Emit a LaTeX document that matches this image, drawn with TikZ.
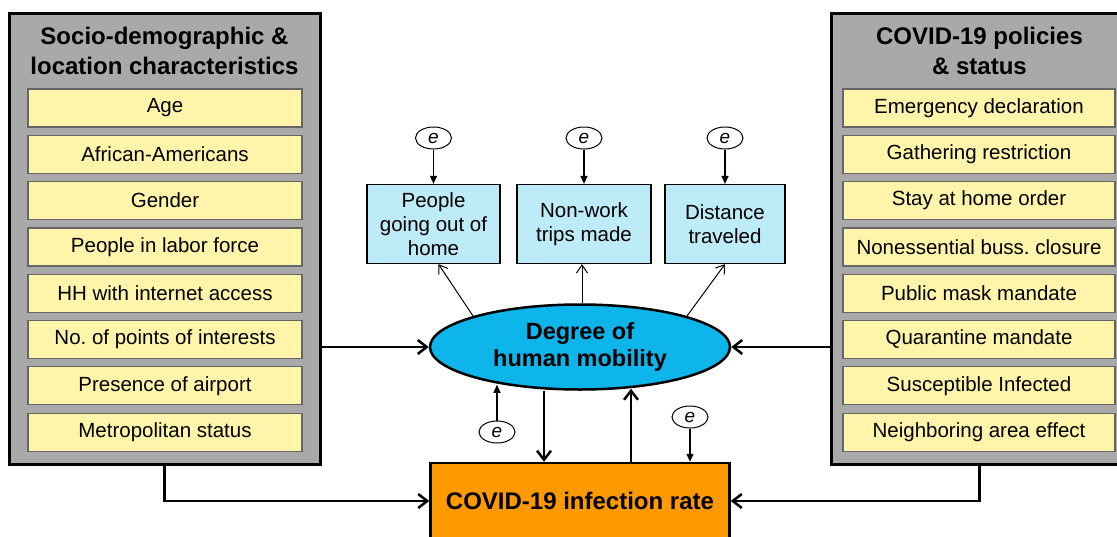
\documentclass[tikz,border=0pt]{standalone}
\usepackage{fontspec}
\setmainfont{Liberation Sans}
\usepackage{xcolor}
\definecolor{grisgroupe}{HTML}{A9A9A9}
\definecolor{jaune}{HTML}{FFF5AA}
\definecolor{bleuclair}{HTML}{BDEBF7}
\definecolor{bleumob}{HTML}{0DB5EA}
\definecolor{orangetx}{HTML}{FF9900}
\usepackage{tikz}
\usetikzlibrary{positioning,arrows.meta,calc,shapes.geometric}

\begin{document}
\frenchspacing
\begin{tikzpicture}[x=1pt,y=-1pt,
  groupe/.style={draw=black,line width=3pt,fill=grisgroupe,inner sep=0pt},
  titre/.style={align=center,inner sep=0pt,font=\fontsize{24}{30}\selectfont\bfseries},
  facteur/.style={draw=black!60,line width=1.2pt,fill=jaune,minimum height=38pt,inner sep=0pt,font=\fontsize{20.5}{22}\selectfont},
  indic/.style={draw=black,line width=1.2pt,fill=bleuclair,minimum height=79pt,align=center,inner sep=0pt,font=\fontsize{20.5}{24}\selectfont},
  err/.style={draw=black,line width=1pt,ellipse,minimum width=36pt,minimum height=22pt,inner sep=0pt,font=\fontsize{19}{19}\selectfont\itshape},
  fin/.style={-{Triangle[length=8pt,width=7pt]},line width=1.2pt},
  mince/.style={-{Straight Barb[length=8pt,width=11pt]},line width=1pt},
  epais/.style={-{Straight Barb[length=9pt,width=14pt]},line width=2.5pt}
]
\useasboundingbox (0,0) rectangle (1117,536);

% les deux groupes de variables
\node[groupe,minimum width=311pt,minimum height=451pt] (socio) at (164.5,238.5) {};
\node[groupe,minimum width=287pt,minimum height=451pt] (pol) at (974.5,238.5) {};
\node[titre,below=15pt of socio.north] {Socio-demographic \&\\location characteristics};
\node[titre,below=15pt of pol.north,xshift=5pt] {COVID-19 policies\\\& status};

\foreach \txt [count=\i from 0] in {Age,African-Americans,Gender,People in labor force,HH with internet access,No. of points of interests,Presence of airport,Metropolitan status}
  \node[facteur,minimum width=274pt] (s\i) at (165,108+46.3*\i) {\txt};
\foreach \txt [count=\i from 0] in {Emergency declaration,Gathering restriction,Stay at home order,Nonessential buss. closure,Public mask mandate,Quarantine mandate,Susceptible Infected,Neighboring area effect}
  \node[facteur,minimum width=272pt] (p\i) at (979,108+46.3*\i) {\txt};

% mobilite et indicateurs
\node[ellipse,draw=black,line width=2.5pt,fill=bleumob,minimum width=300pt,minimum height=85pt,inner sep=0pt,align=center,font=\fontsize{23.5}{27}\selectfont\bfseries] (mob) at (580,347) {Degree of\\human mobility};
\node[draw=black,line width=2.5pt,fill=orangetx,minimum width=299pt,minimum height=76pt,inner sep=0pt,font=\fontsize{24}{26}\selectfont\bfseries] (taux) at (580,501) {COVID-19 infection rate};

\node[indic,minimum width=133pt] (sortie) at (433.5,224) {People\\going out of\\home};
\node[indic,minimum width=134pt] (trajet) at (584,224) {Non-work\\trips made};
\node[indic,minimum width=120pt] (dist) at (725,224) {Distance\\traveled};

\node[err] (e1) at (433.5,138) {e};
\node[err] (e2) at (584,138) {e};
\node[err] (e3) at (725,138) {e};
\node[err] (e4) at (497,432) {e};
\node[err] (e5) at (690,417) {e};

% fleches
\draw[fin] (e1) -- (sortie);
\draw[fin] (e2) -- (trajet);
\draw[fin] (e3) -- (dist);
\draw[mince] (mob.north west) -- ([xshift=5pt]sortie.south);
\draw[mince] ([xshift=2pt]mob.north) -- ([xshift=-2pt]trajet.south);
\draw[mince] (mob.north east) -- (dist.south);
\draw[epais] (socio.east |- mob) -- (mob.west);
\draw[epais] (pol.west |- mob) -- (mob.east);
\draw[epais] (socio.south) |- (taux.west);
\draw[epais] ([xshift=5pt]pol.south) |- (taux.east);
\draw[epais] ([xshift=-36pt]mob.south) -- ([xshift=-36pt]taux.north);
\draw[epais] ([xshift=51pt]taux.north) -- ($([xshift=51pt]mob.south)+(0,-2)$);
\draw[fin] (e4) -- ($(e4 |- mob.south)+(0,-6)$);
\draw[fin] (e5) -- (e5 |- taux.north);
\end{tikzpicture}
\end{document}
